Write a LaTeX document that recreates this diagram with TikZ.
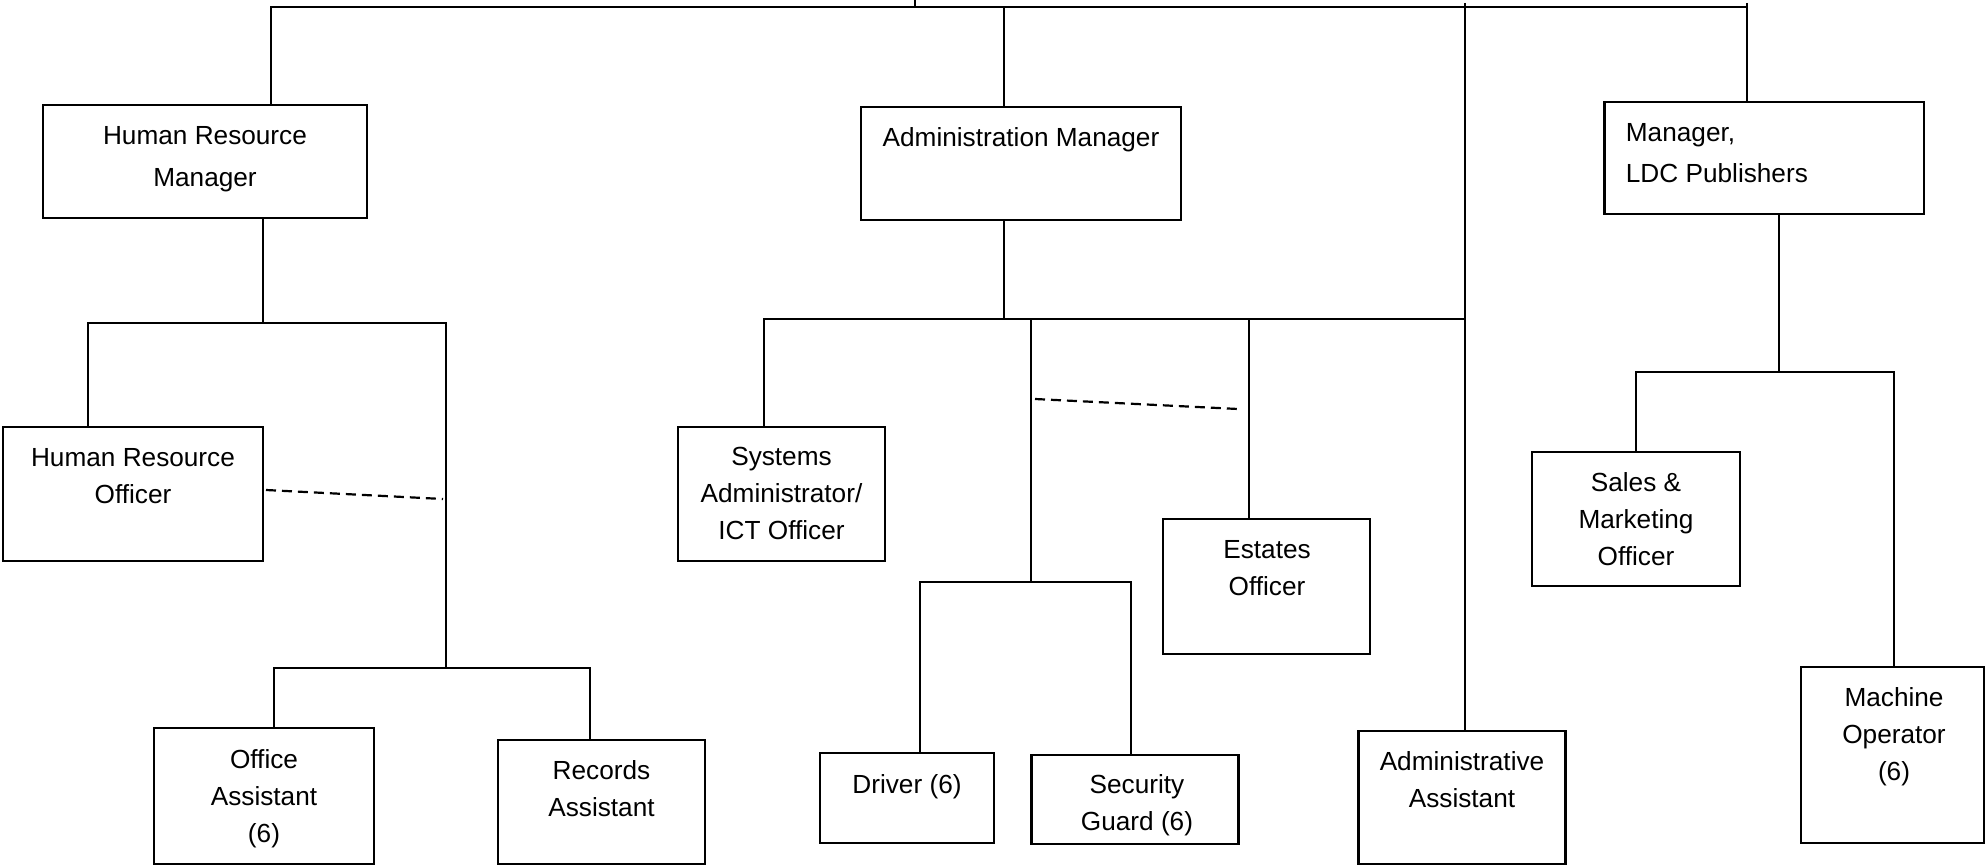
\documentclass[tikz,border=0pt]{standalone}
\usepackage{fontspec}
\setmainfont{Liberation Sans}
\begin{document}
\begin{tikzpicture}[x=0.5pt,y=-0.5pt,
  box/.style={draw, line width=1.1pt, inner sep=0pt, rectangle},
  lbl/.style={font=\fontsize{13.1pt}{18.5pt}\selectfont, align=center, inner sep=0pt, anchor=base},
  mlbl/.style={lbl, font=\fontsize{13.1pt}{20.75pt}\selectfont},
  link/.style={line width=1.1pt},
  dotlink/.style={line width=1.1pt, dash pattern=on 5pt off 3pt}]
\useasboundingbox (0,0) rectangle (1986,866);

% boxes
\node[box, minimum width=324*0.5pt, minimum height=113*0.5pt] (hrm) at (205,161.5) {};
\node[box, minimum width=320*0.5pt, minimum height=113*0.5pt] (adm) at (1021,163.5) {};
\node[box, minimum width=319.5*0.5pt, minimum height=112*0.5pt] (ldc) at (1764.25,158) {};
\node[box, minimum width=260*0.5pt, minimum height=134*0.5pt] (hro) at (133,494) {};
\node[box, minimum width=207*0.5pt, minimum height=134*0.5pt] (sa) at (781.5,494) {};
\node[box, minimum width=207*0.5pt, minimum height=135*0.5pt] (eo) at (1266.5,586.5) {};
\node[box, minimum width=208*0.5pt, minimum height=134*0.5pt] (smo) at (1636,519) {};
\node[box, minimum width=220*0.5pt, minimum height=136*0.5pt] (oa) at (264,796) {};
\node[box, minimum width=207*0.5pt, minimum height=124*0.5pt] (ra) at (601.5,802) {};
\node[box, minimum width=174*0.5pt, minimum height=90*0.5pt] (dr) at (907,798) {};
\node[box, minimum width=207*0.5pt, minimum height=89*0.5pt] (sg) at (1135,799.5) {};
\node[box, minimum width=207*0.5pt, minimum height=133*0.5pt] (aa) at (1462,797.5) {};
\node[box, minimum width=183*0.5pt, minimum height=176*0.5pt] (mo) at (1892.5,755) {};

% labels (anchor=base is the baseline of the last line)
\node[mlbl] (thrm) at (205,186.5) {Human Resource\\Manager};
\node[mlbl] (tadm) at (1021,147) {Administration Manager};
\node[mlbl, anchor=base west, align=left] (tldc) at (1625.5,183) {Manager,\\LDC Publishers};
\node[lbl] (thro) at (133,503.7) {Human Resource\\Officer};
\node[lbl] (tsa) at (781.5,539.7) {Systems\\Administrator/\\ICT Officer};
\node[lbl] (teo) at (1267,595) {Estates\\Officer};
\node[lbl] (tsmo) at (1636,565.7) {Sales \&\\Marketing\\Officer};
\node[lbl] (toa) at (264,842) {Office\\Assistant\\(6)};
\node[lbl] (tra) at (601.5,816) {Records\\Assistant};
\node[lbl] (tdr) at (907,793) {Driver (6)};
\node[lbl] (tsg) at (1137,830) {Security\\Guard (6)};
\node[lbl] (taa) at (1462,807.7) {Administrative\\Assistant};
\node[lbl] (tmo) at (1894,780.7) {Machine\\Operator\\(6)};

% top level
\coordinate (ceo) at (915,0);
\coordinate (bL) at (271,7);
\coordinate (bR) at (1747,7);
\coordinate (bA) at (1004,7);
\coordinate (bM) at (1747,3);
\coordinate (bX) at (1465,3);
\draw[link] (ceo) -- (ceo |- bL);
\draw[link] (hrm.north -| bL) -- (bL) -- (bR);
\draw[link] (bA) -- (bA |- adm.north);
\draw[link] (bM) -- (bM |- ldc.north);
\draw[link] (bX) -- (bX |- aa.north);

% HR branch
\coordinate (h1) at (263,323);
\coordinate (h2) at (88,323);
\coordinate (h3) at (446,323);
\coordinate (h4) at (446,668);
\coordinate (h5) at (274,668);
\coordinate (h6) at (590,668);
\draw[link] (hrm.south -| h1) -- (h1);
\draw[link] (hro.north -| h2) -- (h2) -- (h3) -- (h4);
\draw[link] (oa.north -| h5) -- (h5) -- (h6) -- (ra.north -| h6);
\coordinate (d1s) at (266,490);
\coordinate (d1e) at (443,499);
\draw[dotlink] (d1s) -- (d1e);

% Administration branch
\coordinate (a1) at (1004,319);
\coordinate (a2) at (764,319);
\coordinate (a3) at (1465,319);
\coordinate (a4) at (1031,319);
\coordinate (a5) at (1031,582);
\coordinate (a6) at (920,582);
\coordinate (a7) at (1131,582);
\coordinate (a8) at (1249,319);
\draw[link] (adm.south -| a1) -- (a1);
\draw[link] (sa.north -| a2) -- (a2) -- (a3);
\draw[link] (a4) -- (a5);
\draw[link] (dr.north -| a6) -- (a6) -- (a7) -- (sg.north -| a7);
\draw[link] (a8) -- (eo.north -| a8);
\coordinate (d2s) at (1035,399);
\coordinate (d2e) at (1238,409);
\draw[dotlink] (d2s) -- (d2e);

% LDC branch
\coordinate (l1) at (1779,372);
\coordinate (l2) at (1636,372);
\coordinate (l3) at (1894,372);
\draw[link] (ldc.south -| l1) -- (l1);
\draw[link] (smo.north -| l2) -- (l2) -- (l3) -- (mo.north -| l3);
\end{tikzpicture}
\end{document}
